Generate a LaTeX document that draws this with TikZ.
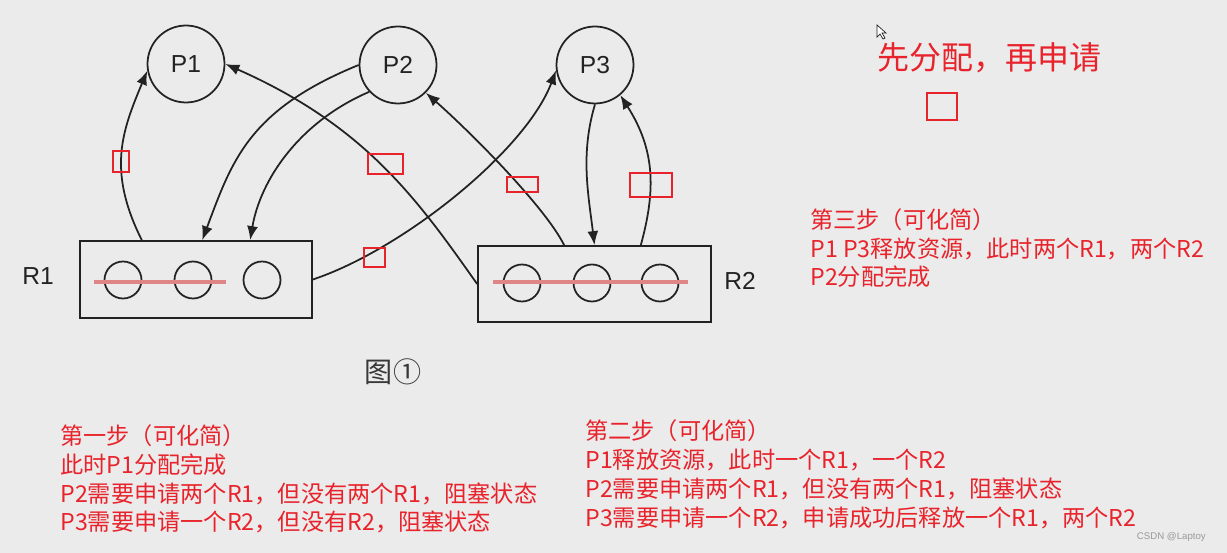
\documentclass[tikz,border=0pt]{standalone}
\usepackage{fontspec}
\setmainfont{Liberation Sans}
\newfontfamily\cjk{Noto Sans CJK SC}
\usetikzlibrary{arrows.meta}

\definecolor{paper}{HTML}{EBEBEB}
\definecolor{ink}{HTML}{222222}
\definecolor{markred}{HTML}{E8232B}
\definecolor{strikered}{HTML}{E08585}

\tikzset{
  proc/.style={circle, draw=ink, line width=1pt, minimum size=1.54cm, inner sep=0pt,
    text=ink, font=\fontsize{14pt}{16pt}\selectfont},
  res/.style={draw=ink, line width=1pt, minimum width=4.64cm, minimum height=1.54cm, inner sep=0pt},
  unit/.style={circle, draw=ink, line width=1pt, minimum size=0.74cm, inner sep=0pt},
  edge/.style={draw=ink, line width=1pt, -{Latex[length=2.8mm,width=2.2mm]}},
  strike/.style={draw=strikered, line width=2.8pt},
  markbox/.style={draw=markred, line width=1.1pt},
  note/.style={text=markred, font=\cjk\fontsize{13.2pt}{16.5pt}\selectfont,
    align=left, inner sep=0pt, anchor=base west},
}

\begin{document}
\begin{tikzpicture}[x=0.02cm, y=0.02cm]
    \fill[paper] (0,0) rectangle (1227,-553);
    \useasboundingbox (0,0) rectangle (1227,-553);

    % processes
    \node[proc] (P1) at (186,-64) {P1};
    \node[proc] (P2) at (398,-65) {P2};
    \node[proc] (P3) at (595,-65) {P3};

    % resources
    \node[res] (R1) at (196,-279.5) {};
    \node[res, minimum width=4.66cm, minimum height=1.52cm] (R2) at (594.5,-284) {};
    \foreach \x [count=\i] in {123,193,262}
        \node[unit] (r1\i) at (\x,-280) {};
    \foreach \x [count=\i] in {522,592,660}
        \node[unit] (r2\i) at (\x,-283) {};
    \node[text=ink, font=\fontsize{14pt}{16pt}\selectfont] (R1lab) at (38,-276) {R1};
    \node[text=ink, font=\fontsize{14pt}{16pt}\selectfont] (R2lab) at (740,-281) {R2};
    \node[text=ink!90, font=\cjk\fontsize{16pt}{18pt}\selectfont] (fig) at (393,-372) {图①};

    % used units struck out
    \draw[strike] ([xshift=-0.58cm, yshift=-0.04cm]r11.center) -- ([xshift=0.66cm, yshift=-0.04cm]r12.center);
    \draw[strike] ([xshift=-0.58cm, yshift=0.02cm]r21.center) -- ([xshift=0.56cm, yshift=0.02cm]r23.center);

    % allocation and request edges
    \draw[edge] (R1.144) .. controls +(-35,70) and +(-25,-60) .. (P1.190);
    \draw[edge] (P2.180) .. controls +(-110,-45) and +(30,80) .. (R1.81);
    \draw[edge] (P2.223) .. controls +(-70,-30) and +(10,60) .. (R1.36);
    \draw[edge] (R1.east) .. controls +(90,30) and +(-30,-80) .. (P3.188);
    \draw[edge] (R2.128) .. controls +(-20,40) and +(40,-35) .. (P2.315);
    \draw[edge] (P3.270) .. controls +(-15,-50) and +(-6,50) .. (R2.90);
    \draw[edge] (R2.40) .. controls +(15,55) and +(35,-55) .. (P3.310);
    \draw[edge] (R2.west) .. controls +(-60,85) and +(140,-62) .. (P1.east);

    % red marks
    \draw[markbox] (113,-151) rectangle (129,-172);
    \draw[markbox] (368,-154) rectangle (403,-174);
    \draw[markbox] (364,-248) rectangle (385,-267);
    \draw[markbox] (507,-177) rectangle (538,-192);
    \draw[markbox] (630,-173) rectangle (672,-197);
    \draw[markbox] (927,-93) rectangle (957,-120);

    % pointer
    \draw[ink, line width=0.4pt, fill=white] (877,-25) -- (877,-37) -- (880,-34) -- (883,-39)
        -- (885,-38) -- (882,-33) -- (886,-33) -- cycle;

    % notes (anchored at the baseline of the last line)
    \node[note, font=\cjk\fontsize{18.2pt}{20pt}\selectfont] (title) at (877,-70) {先分配，再申请};
    \node[note] (step1) at (60,-531) {第一步（可化简）\\此时P1分配完成\\P2需要申请两个R1，但没有两个R1，阻塞状态\\P3需要申请一个R2，但没有R2，阻塞状态};
    \node[note] (step2) at (585,-526) {第二步（可化简）\\P1释放资源，此时一个R1，一个R2\\P2需要申请两个R1，但没有两个R1，阻塞状态\\P3需要申请一个R2，申请成功后释放一个R1，两个R2};
    \node[note] (step3) at (810,-286) {第三步（可化简）\\P1 P3释放资源，此时两个R1，两个R2\\P2分配完成};
    \node[text=gray!80, font=\fontsize{5.5pt}{6pt}\selectfont, anchor=east] (wm) at (1212,-537) {CSDN @Laptoy};
\end{tikzpicture}
\end{document}
